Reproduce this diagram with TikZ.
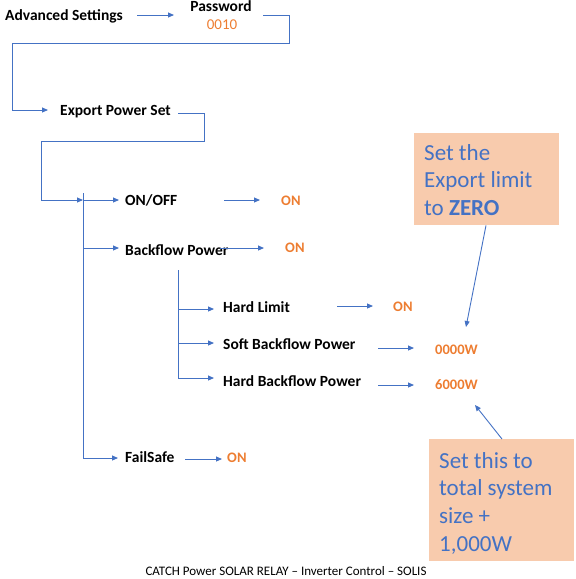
\documentclass[tikz,border=0pt]{standalone}
\usepackage{fontspec}
\setmainfont{Carlito}
\usetikzlibrary{arrows.meta}
\definecolor{obl}{HTML}{4472C4}
\definecolor{oor}{HTML}{ED7D31}
\definecolor{opeach}{HTML}{F8CBAD}
\tikzset{
  lbl/.style={anchor=west,inner sep=0pt,font=\fontsize{15.5}{17}\selectfont\bfseries},
  val/.style={anchor=west,inner sep=0pt,text=oor,font=\fontsize{14.5}{16}\selectfont\bfseries},
  conn/.style={draw=obl,line width=0.9pt},
  arr/.style={conn,-{Triangle[length=6pt,width=5pt]}},
  notebox/.style={fill=opeach,anchor=north west,inner sep=0pt,minimum width=145pt},
  notetext/.style={text=obl,anchor=north west,inner sep=0pt,align=left,
    font=\fontsize{23}{27.7}\selectfont},
}
\begin{document}
\begin{tikzpicture}[x=1pt,y=-1pt]
\useasboundingbox (0,0) rectangle (576,579);
% texts
\node[lbl] (adv) at (5,16) {Advanced Settings};
\node[lbl,anchor=center] (pw) at (221,6) {Password};
\node[anchor=center,inner sep=0pt,text=oor,font=\fontsize{15}{16}\selectfont] (pwv) at (222,25) {0010};
\node[lbl] (eps) at (60,112) {Export Power Set};
\node[lbl] (onoff) at (125,200) {ON/OFF};
\node[val] (on1) at (281,201) {ON};
\node[lbl] (bfp) at (125,250) {Backflow Power};
\node[val] (on2) at (285,248) {ON};
\node[lbl] (hl) at (223,307) {Hard Limit};
\node[val] (on3) at (393,307) {ON};
\node[lbl] (sbp) at (223,344) {Soft Backflow Power};
\node[val] (v0) at (435,350) {0000W};
\node[lbl] (hbp) at (223,381) {Hard Backflow Power};
\node[val] (v6) at (435,385) {6000W};
\node[lbl] (fs) at (125,457) {FailSafe};
\node[val] (on4) at (227,458) {ON};
\node[anchor=center,inner sep=0pt,font=\fontsize{13}{14}\selectfont] (foot) at (286,571) {CATCH Power SOLAR RELAY – Inverter Control – SOLIS};
% notes
\node[notebox,minimum height=92pt] (n1) at (414,133) {};
\node[notetext] (n1t) at ([xshift=10pt,yshift=-11pt]n1.north west) {Set the\\Export limit\\to \textbf{ZERO}};
\node[notebox,minimum height=122pt] (n2) at (429,439) {};
\node[notetext] (n2t) at ([xshift=10pt,yshift=-13pt]n2.north west) {Set this to\\total system\\size +\\1,000W};
% coordinates
\coordinate (a1s) at (137,15); \coordinate (a1e) at (174,15);
\coordinate (p1) at (263,15); \coordinate (p2) at (289,43); \coordinate (p3) at (12,43); \coordinate (p4) at (48,110);
\coordinate (q1) at (178,113); \coordinate (q2) at (204,141); \coordinate (q3) at (41,141); \coordinate (q4) at (83,200);
\coordinate (v1t) at (83,193); \coordinate (v1b) at (83,458);
\coordinate (v2t) at (178,270); \coordinate (v2b) at (178,378);
\coordinate (b1) at (119,200); \coordinate (b2) at (119,248); \coordinate (b3) at (118,458);
\coordinate (c1) at (214,309); \coordinate (c2) at (214,343); \coordinate (c3) at (214,378);
\coordinate (r1s) at (224,200); \coordinate (r1e) at (260,200);
\coordinate (r2s) at (220,248); \coordinate (r2e) at (264,248);
\coordinate (r3s) at (337,306); \coordinate (r3e) at (373,306);
\coordinate (r4s) at (378,348); \coordinate (r4e) at (414,348);
\coordinate (r5s) at (378,385); \coordinate (r5e) at (414,385);
\coordinate (r6s) at (185,459); \coordinate (r6e) at (222,459);
\coordinate (t1) at (466,327); \coordinate (t2) at (475,405);
% connectors
\draw[arr] (a1s) -- (a1e);
\draw[arr] (p1) -| (p2) -| (p3) |- (p4);
\draw[arr] (q1) -| (q2) -| (q3) |- (q4);
\draw[conn] (v1t) -- (v1b);
\draw[arr] (q4) -- (b1);
\draw[arr] (v1t |- b2) -- (b2);
\draw[arr] (v1b) -- (b3);
\draw[conn] (v2t) -- (v2b);
\draw[arr] (v2t |- c1) -- (c1);
\draw[arr] (v2t |- c2) -- (c2);
\draw[arr] (v2b) -- (c3);
\draw[arr] (r1s) -- (r1e);
\draw[arr] (r2s) -- (r2e);
\draw[arr] (r3s) -- (r3e);
\draw[arr] (r4s) -- (r4e);
\draw[arr] (r5s) -- (r5e);
\draw[arr] (r6s) -- (r6e);
\draw[arr] (n1.south -| 486,0) -- (t1);
\draw[arr] (n2.north -| 502,0) -- (t2);
\end{tikzpicture}
\end{document}
